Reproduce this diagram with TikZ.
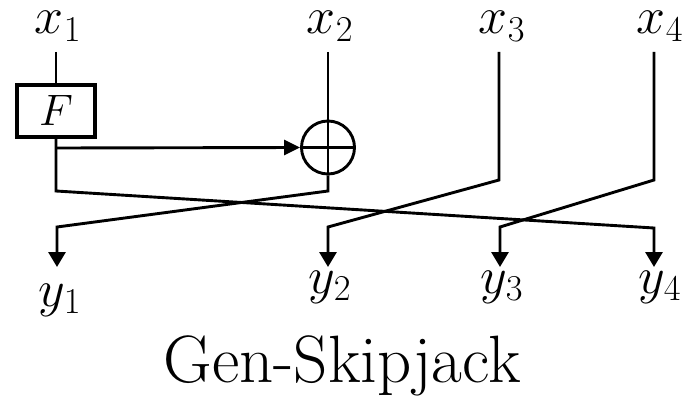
\RequirePackage{fix-cm}
\documentclass[tikz,border=0pt]{standalone}
\usepackage{fontspec}
\usetikzlibrary{arrows.meta}
\tikzset{
  wire/.style={line width=2.9pt, line join=miter},
  outwire/.style={wire, -{Triangle[width=17pt,length=15pt]}},
  fbox/.style={draw, line width=4pt, minimum width=78pt, minimum height=52pt, inner sep=0pt, font=\fontsize{44}{50}\selectfont},
  xorc/.style={draw, circle, line width=2.9pt, minimum size=53pt, inner sep=0pt},
  lab/.style={anchor=base, inner sep=0pt, font=\fontsize{52}{60}\selectfont},
  title/.style={anchor=base, inner sep=0pt, font=\fontsize{67}{74}\selectfont}
}
\begin{document}
\begin{tikzpicture}[x=1pt,y=-1pt]
\useasboundingbox (0,0) rectangle (685,396);
% input labels
\node[lab] (x1) at (58,34) {$x_1$};
\node[lab] (x2) at (330,34) {$x_2$};
\node[lab] (x3) at (502,34) {$x_3$};
\node[lab] (x4) at (660,34) {$x_4$};
% output labels
\node[lab] (y1) at (60,306) {$y_1$};
\node[lab] (y2) at (330,293) {$y_2$};
\node[lab] (y3) at (502,293) {$y_3$};
\node[lab] (y4) at (660,293) {$y_4$};
\node[title] (t) at (342,382) {Gen-Skipjack};
% top coordinates
\coordinate (t1) at (56,52);
\coordinate (t2) at (328,52);
\coordinate (t3) at (499,52);
\coordinate (t4) at (654,52);
% F box and xor
\node[fbox] (F) at (56,110.5) {$F$};
\node[xorc] (X) at (328,147.5) {};
\draw[wire] (X.north) -- (X.south);
\draw[wire] (X.west) -- (X.east);
% bends
\coordinate (b1) at (56,191);
\coordinate (b2) at (328,191);
\coordinate (b3) at (499,180);
\coordinate (b4) at (654,180);
\coordinate (d1) at (57,227);
\coordinate (d2) at (328,227);
\coordinate (d3) at (500,227);
\coordinate (d4) at (654,228);
\coordinate (e1) at (57,267);
\coordinate (e2) at (328,267);
\coordinate (e3) at (500,267);
\coordinate (e4) at (654,267);
\coordinate (fb) at (56,148);
% inputs
\draw[wire] (t1) -- (F.north);
\draw[wire] (t2) -- (X.north);
% F output to xor
\draw[wire, -{Triangle[width=15pt,length=16pt]}] (fb) -- (X.west);
% routing
\draw[outwire] (F.south) -- (b1) -- (d4) -- (e4);
\draw[outwire] (X.south) -- (b2) -- (d1) -- (e1);
\draw[outwire] (t3) -- (b3) -- (d2) -- (e2);
\draw[outwire] (t4) -- (b4) -- (d3) -- (e3);
\end{tikzpicture}
\end{document}
